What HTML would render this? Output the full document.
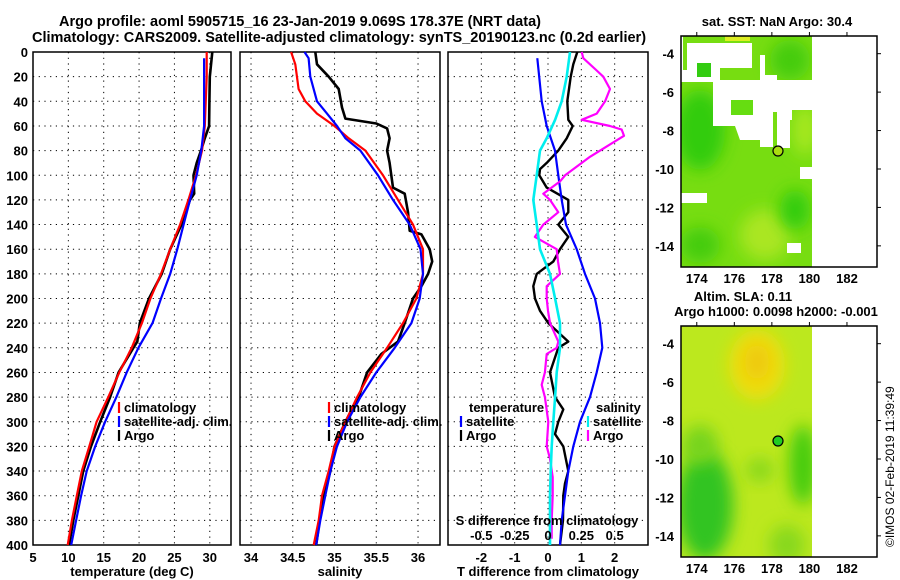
<!DOCTYPE html>
<html><head><meta charset="utf-8"><style>
html,body{margin:0;padding:0;background:#fff;}
svg{display:block;font-family:"Liberation Sans",sans-serif;font-weight:bold;}
</style></head><body>
<svg id="c" width="900" height="580" viewBox="0 0 900 580" xmlns="http://www.w3.org/2000/svg">
<defs>
<filter id="blur8" x="-50%" y="-50%" width="200%" height="200%"><feGaussianBlur stdDeviation="8"/></filter>
<filter id="blur3"><feGaussianBlur stdDeviation="2"/></filter>
<clipPath id="m1clip"><rect x="681" y="36" width="131" height="231"/></clipPath>
<clipPath id="m2clip"><rect x="681" y="326" width="131" height="231"/></clipPath>
</defs>
<text x="300" y="26" font-size="14.5" text-anchor="middle">Argo profile: aoml 5905715_16 23-Jan-2019 9.069S 178.37E (NRT data)</text>
<text x="339" y="42" font-size="14.5" text-anchor="middle">Climatology: CARS2009. Satellite-adjusted climatology: synTS_20190123.nc (0.2d earlier)</text>

<!-- map 1 -->
<g>
<text x="777" y="26" font-size="13" text-anchor="middle">sat. SST: NaN Argo: 30.4</text>
<g clip-path="url(#m1clip)">
<rect x="681" y="36" width="131" height="231" fill="#77dd11"/>
<ellipse cx="700" cy="130" rx="25" ry="40" fill="#33cc11" filter="url(#blur8)"/>
<ellipse cx="765" cy="235" rx="25" ry="25" fill="#aae622" filter="url(#blur8)"/>
<ellipse cx="700" cy="245" rx="20" ry="18" fill="#44cc11" filter="url(#blur8)"/>
<ellipse cx="795" cy="210" rx="15" ry="20" fill="#33cc11" filter="url(#blur8)"/>
<ellipse cx="805" cy="130" rx="12" ry="25" fill="#a8e822" filter="url(#blur8)"/>
<ellipse cx="790" cy="60" rx="20" ry="20" fill="#44cc11" filter="url(#blur8)"/>
<rect x="725" y="36" width="25" height="5" fill="#ddee22"/>
<g fill="#fff">
<polygon points="687,43 752,43 752,68 720,68 720,82 687,82"/>
<polygon points="681,70 687,70 687,82 681,82"/>
<polygon points="713,80 777,80 777,112 773,112 773,147 760,147 760,140 740,140 735,126 713,126"/>
<polygon points="760,55 765,55 765,75 777,75 777,80 760,80"/>
<polygon points="777,80 812,80 812,110 792,110 792,120 777,120"/>
<polygon points="777,112 790,112 790,148 777,148"/>
<rect x="681" y="193" width="26" height="10"/>
<rect x="800" y="167" width="12" height="12"/>
<rect x="787" y="243" width="14" height="10"/>
<rect x="681" y="36" width="2" height="35"/>
</g>
<rect x="731" y="100" width="22" height="15" fill="#66dd11"/>
<rect x="697" y="63" width="14" height="14" fill="#33cc11"/>
</g>
<rect x="681" y="36" width="196" height="231" fill="none" stroke="#000" stroke-width="1.5"/>
<circle cx="778" cy="151" r="5" fill="#aadd11" stroke="#000" stroke-width="1.2"/>
<g id="m1ticks"></g>
</g>

<!-- map 2 -->
<g>
<text x="743" y="301" font-size="13" text-anchor="middle">Altim. SLA: 0.11</text>
<text x="776" y="316" font-size="13" text-anchor="middle">Argo h1000: 0.0098 h2000: -0.001</text>
<g clip-path="url(#m2clip)">
<rect x="681" y="326" width="131" height="231" fill="#bce81e"/>
<ellipse cx="757" cy="365" rx="28" ry="35" fill="#eedd11" filter="url(#blur8)"/>
<ellipse cx="757" cy="362" rx="12" ry="18" fill="#eec811" filter="url(#blur8)"/>
<ellipse cx="705" cy="505" rx="28" ry="55" fill="#33c422" filter="url(#blur8)"/>
<ellipse cx="700" cy="445" rx="18" ry="20" fill="#77d41a" filter="url(#blur8)"/>
<ellipse cx="803" cy="465" rx="14" ry="40" fill="#44cc11" filter="url(#blur8)"/>
<ellipse cx="787" cy="545" rx="18" ry="20" fill="#88d81a" filter="url(#blur8)"/>
<ellipse cx="760" cy="470" rx="14" ry="12" fill="#88d81a" filter="url(#blur8)"/>
</g>
<rect x="681" y="326" width="196" height="231" fill="none" stroke="#000" stroke-width="1.5"/>
<circle cx="778" cy="441" r="5" fill="#22cc22" stroke="#000" stroke-width="1.2"/>
<g id="m2ticks"></g>
</g>
<text transform="translate(894,547) rotate(-90)" font-size="12" font-weight="normal">©IMOS 02-Feb-2019 11:39:49</text>

<g id="panels"></g>
</svg>
<script>
// ---------- data ----------
const depthTicks = [0,20,40,60,80,100,120,140,160,180,200,220,240,260,280,300,320,340,360,380,400];
const tempTicks = [5,10,15,20,25,30];
const salTicks = [34,34.5,35,35.5,36];
const tdiffTicks = [-2,-1,0,1,2];
const sdiffTicks = [-0.5,-0.25,0,0.25,0.5];
const sdiffTickLabels = ["-0.5","-0.25","0","0.25","0.5"];

const tDepthArgo = [0,20,40,60,70,80,90,100,115,120,140,160,180,200,220,235,240,260,280,300,320,340,360,380,400];
const tArgo = [30.36,30.0,29.94,29.9,29.3,28.76,28.15,27.7,27.8,27.2,26.0,24.4,23.2,21.4,20.1,19.75,19.2,17.1,15.9,14.5,13.2,12.1,11.4,10.7,10.1];
const tDepthClim = [0,20,60,80,100,120,140,160,180,200,220,240,260,280,300,320,340,360,380,400];
const tClim = [29.57,29.57,29.3,28.9,28.05,26.97,25.8,24.4,23.1,21.6,20.4,18.96,17.2,15.65,14.0,12.96,11.9,11.2,10.5,9.9];
const tDepthSat = [5,60,80,100,120,140,160,180,200,220,240,260,280,300,320,340,360,380,400];
const tSat = [29.2,29.2,28.8,28.15,27.2,26.3,25.4,24.4,23.1,21.9,19.9,18.25,16.8,15.2,13.8,12.6,11.8,11.1,10.4];

const sDepthArgo = [0,10,20,30,45,54,58,62,70,80,90,100,110,115,130,145,148,160,170,180,190,200,220,235,245,260,280,300,320,340,360,380,400];
const sArgo = [34.77,34.79,34.93,35.05,35.09,35.13,35.5,35.63,35.66,35.63,35.66,35.68,35.70,35.84,35.88,35.9,36.04,36.14,36.17,36.12,36.04,35.94,35.84,35.76,35.56,35.39,35.29,35.13,35.0,34.95,34.87,34.82,34.78];
const sDepthClim = [0,10,30,40,50,60,70,80,100,120,140,160,180,200,220,240,260,280,300,320,340,360,380,400];
const sClim = [34.48,34.53,34.57,34.65,34.79,35.0,35.17,35.37,35.58,35.76,35.94,36.06,36.06,35.98,35.82,35.63,35.43,35.27,35.13,35.0,34.93,34.85,34.81,34.75];
const sDepthSat = [0,5,20,40,50,60,70,80,100,120,140,160,180,200,220,240,260,280,300,320,340,360,380,400];
const sSat = [34.64,34.69,34.71,34.79,34.91,35.03,35.13,35.31,35.52,35.70,35.9,36.03,36.06,36.02,35.92,35.72,35.5,35.31,35.15,35.03,34.95,34.89,34.83,34.78];

const dtDepthSat = [5,40,60,80,100,120,140,160,180,200,220,240,260,280,300,320,340,360,380,400];
const dtSat = [-0.32,-0.19,-0.04,0.21,0.31,0.41,0.54,0.86,1.11,1.41,1.56,1.63,1.46,1.26,0.96,0.76,0.61,0.51,0.41,0.36];
const dtDepthArgo = [0,10,20,40,55,60,70,80,90,95,100,110,120,130,140,150,160,170,180,190,200,210,220,235,240,260,280,290,300,310,320,340,350,360,380,400];
const dtArgo = [0.88,0.76,0.68,0.58,0.61,0.74,0.56,0.31,-0.04,-0.24,-0.26,-0.04,0.61,0.61,0.31,0.61,0.36,0.16,-0.34,-0.44,-0.39,-0.24,0.01,0.61,0.31,0.06,0.21,0.46,0.31,0.21,0.46,0.61,0.51,0.46,0.45,0.36];
const dsDepthSat = [0,20,40,55,70,80,100,120,140,160,180,200,220,240,260,280,300,320,340,360,380,400];
const dsSat = [0.165,0.14,0.103,0.053,-0.01,-0.06,-0.085,-0.11,-0.085,-0.06,0.015,0.053,0.09,0.09,0.065,0.053,0.04,0.028,0.02,0.015,0.015,0.015];
const dsDepthArgo = [0,5,15,20,30,40,50,55,60,63,68,75,85,100,105,115,120,130,140,150,160,170,180,190,200,210,220,235,240,245,260,270,280,300,320,330,345,360,380,395];
const dsArgo = [0.253,0.265,0.365,0.415,0.465,0.428,0.365,0.253,0.465,0.553,0.570,0.465,0.315,0.128,0.09,-0.035,0.015,0.077,-0.035,-0.098,0.065,0.075,0.09,-0.01,-0.01,0,0.015,0.077,0.065,-0.01,-0.023,-0.047,-0.023,0.002,-0.01,0.015,0.035,0.035,0.028,0.028];

const lonTicks = [174,176,178,180,182];
const latTicks = [-4,-6,-8,-10,-12,-14];

// ---------- helpers ----------
const NS = "http://www.w3.org/2000/svg";
const root = document.getElementById("panels");
function mk(tag, attrs, parent){ const e=document.createElementNS(NS,tag); for(const k in attrs) e.setAttribute(k,attrs[k]); (parent||root).appendChild(e); return e; }
const TOP=52, BOT=545;
const yD = d => TOP + d*(BOT-TOP)/400;
function lin(d0,d1,r0,r1){ return v => r0 + (v-d0)*(r1-r0)/(d1-d0); }

const panels = [
  {name:"temperature", x0:33, x1:231, sc:lin(5,33,33,231), ticks:tempTicks, labels:tempTicks.map(String), xlabel:"temperature (deg C)", ylabels:true},
  {name:"salinity", x0:240, x1:440, sc:lin(33.868,36.263,240,440), ticks:salTicks, labels:salTicks.map(String), xlabel:"salinity", ylabels:false},
  {name:"difference", x0:448, x1:648, sc:lin(-3,3,448,648), ticks:tdiffTicks, labels:tdiffTicks.map(String), xlabel:"T difference from climatology", ylabels:false}
];

panels.forEach(p=>{
  const g = mk("g",{});
  
  
  depthTicks.forEach(d=>{
    const l = mk("line",{x1:p.x0,x2:p.x1,y1:yD(d),y2:yD(d),stroke:"#000","stroke-width":1,"stroke-dasharray":"1.2,4.5"},g);
    
    
    if(p.ylabels){
      const t = mk("text",{x:28,y:yD(d)+5,"font-size":13,"text-anchor":"end"},g);
      t.textContent = d;
      
      
    }
  });
  p.ticks.forEach((v,i)=>{
    const x = p.sc(v);
    const l = mk("line",{x1:x,x2:x,y1:TOP,y2:BOT,stroke:"#000","stroke-width":1,"stroke-dasharray":"1.2,4.5"},g);
    
    
    const t = mk("text",{x:x,y:562,"font-size":13,"text-anchor":"middle"},g);
    t.textContent = p.labels[i];
    
    
  });
  const fr = mk("rect",{x:p.x0,y:TOP,width:p.x1-p.x0,height:BOT-TOP,fill:"none",stroke:"#000","stroke-width":1.5},g);
  
  
  const xl = mk("text",{x:(p.x0+p.x1)/2,y:576,"font-size":13,"text-anchor":"middle"},g);
  xl.textContent = p.xlabel;
  
  
  p.g = g;
});

function series(p, depths, vals, color, w, name, xf){
  const pts = depths.map((d,i)=> (xf?xf(vals[i]):p.sc(vals[i])).toFixed(1)+","+yD(d).toFixed(1)).join(" ");
  const pl = mk("polyline",{points:pts,fill:"none",stroke:color,"stroke-width":w,"stroke-linejoin":"round"},p.g);
  
  
}
const P0=panels[0], P1=panels[1], P2=panels[2];
series(P0,tDepthArgo,tArgo,"#000",2.6,"temp-argo-line");
series(P0,tDepthClim,tClim,"#f00",2.2,"temp-climatology-line");
series(P0,tDepthSat,tSat,"#00f",2.2,"temp-satellite-line");
series(P1,sDepthArgo,sArgo,"#000",2.6,"salinity-argo-line");
series(P1,sDepthClim,sClim,"#f00",2.2,"salinity-climatology-line");
series(P1,sDepthSat,sSat,"#00f",2.2,"salinity-satellite-line");
const sdx = lin(-0.75,0.75,448,648);
series(P2,dtDepthArgo,dtArgo,"#000",2.4,"tdiff-argo-line");
series(P2,dtDepthSat,dtSat,"#00f",2.2,"tdiff-satellite-line");
series(P2,dsDepthArgo,dsArgo,"#f0f",2.2,"sdiff-argo-line",sdx);
series(P2,dsDepthSat,dsSat,"#0ee",2.6,"sdiff-satellite-line",sdx);

// S difference axis labels
{
  const t = mk("text",{x:547,y:525,"font-size":13,"text-anchor":"middle"},P2.g);
  t.textContent = "S difference from climatology";
  
  
  sdiffTicks.forEach((v,i)=>{
    const tt = mk("text",{x:sdx(v),y:540,"font-size":13,"text-anchor":"middle"},P2.g);
    tt.textContent = sdiffTickLabels[i];
    
    
  });
}

// legends
function legend(g, x, y, entries, name){
  const lg = mk("g",{},g);
  
  
  entries.forEach((e,i)=>{
    const yy = y + i*14;
    if(e.c){ mk("line",{x1:x,x2:x,y1:yy-10,y2:yy+1,stroke:e.c,"stroke-width":2.2},lg); }
    const t = mk("text",{x:e.c?x+5:x+8,y:yy,"font-size":13},lg);
    t.textContent = e.t;
    
    
  });
}
legend(P0.g,119,412,[{t:"climatology",c:"#f00"},{t:"satellite-adj. clim.",c:"#00f"},{t:"Argo",c:"#000"}],"temp-legend");
legend(P1.g,329,412,[{t:"climatology",c:"#f00"},{t:"satellite-adj. clim.",c:"#00f"},{t:"Argo",c:"#000"}],"salinity-legend");
legend(P2.g,461,412,[{t:"temperature"},{t:"satellite",c:"#00f"},{t:"Argo",c:"#000"}],"tdiff-legend");
legend(P2.g,588,412,[{t:"salinity"},{t:"satellite",c:"#0ee"},{t:"Argo",c:"#f0f"}],"sdiff-legend");

// map ticks
function mapAxes(id, top){
  const g = document.getElementById(id);
  const lx = lin(173.16,183.6,681,877);
  const ly = lin(-3.08,-15.1,top,top+231);
  lonTicks.forEach(v=>{
    const x = lx(v);
    mk("line",{x1:x,x2:x,y1:top-4,y2:top,stroke:"#000","stroke-width":1},g);
    const t = mk("text",{x:x,y:top+231+16,"font-size":13,"text-anchor":"middle"},g);
    t.textContent = v;
    
    
  });
  latTicks.forEach(v=>{
    const y = ly(v);
    mk("line",{x1:877,x2:881,y1:y,y2:y,stroke:"#000","stroke-width":1},g);
    const t = mk("text",{x:674,y:y+5,"font-size":13,"text-anchor":"end"},g);
    t.textContent = v;
    
    
  });
}
mapAxes("m1ticks",36);
mapAxes("m2ticks",326);
</script>
</body></html>
